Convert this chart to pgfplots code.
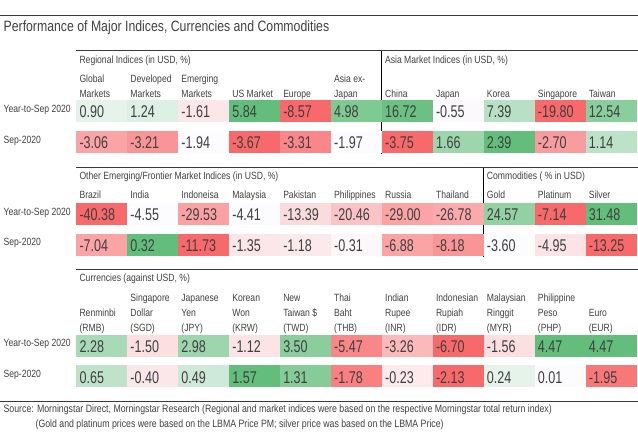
\documentclass[border=0pt]{standalone}
\usepackage{fontspec}
\setmainfont{Liberation Sans}[FakeStretch=0.82]
\newfontfamily\numfont{Liberation Sans}[FakeStretch=0.74]
\usepackage{pgfplots}
\pgfplotsset{compat=1.18}
\usepackage{pgfplotstable}
\definecolor{txt}{HTML}{404040}
\definecolor{rulec}{HTML}{3A3A3A}
\pgfdeclareplotmark{cell}{\pgfpathrectangle{\pgfpoint{-25.6bp}{-11bp}}{\pgfpoint{51.2bp}{22bp}}\pgfusepathqfill}
\tikzset{hdr/.style={anchor=base west, inner sep=0pt, text=txt, align=left, font=\fontsize{10.5bp}{15bp}\selectfont}}

\pgfplotstableread{
x y t v
101.5 111 0.15 0.90
152.5 111 0.2 1.24
203.5 111 -0.15 -1.61
254.5 111 1.0 5.84
305.5 111 -1.0 -8.57
356.5 111 0.82 4.98
407.5 111 0.95 16.72
458.5 111 -0.02 -0.55
509.5 111 0.45 7.39
560.5 111 -1.0 -19.80
611.5 111 0.75 12.54
101.5 142 -0.6 -3.06
152.5 142 -0.7 -3.21
203.5 142 0 -1.94
254.5 142 -1 -3.67
305.5 142 -0.8 -3.31
356.5 142 0 -1.97
407.5 142 -1 -3.75
458.5 142 0.62 1.66
509.5 142 1 2.39
560.5 142 -0.65 -2.70
611.5 142 0.42 1.14
101.5 214 -1 -40.38
152.5 214 0 -4.55
203.5 214 -0.62 -29.53
254.5 214 0 -4.41
305.5 214 -0.22 -13.39
356.5 214 -0.38 -20.46
407.5 214 -0.6 -29.00
458.5 214 -0.56 -26.78
509.5 214 0.7 24.57
560.5 214 -1 -7.14
611.5 214 1 31.48
101.5 245 -0.6 -7.04
152.5 245 1 0.32
203.5 245 -1 -11.73
254.5 245 -0.15 -1.35
305.5 245 -0.13 -1.18
356.5 245 -0.03 -0.31
407.5 245 -0.6 -6.88
458.5 245 -0.7 -8.18
509.5 245 0 -3.60
560.5 245 -0.17 -4.95
611.5 245 -1 -13.25
101.5 346 0.55 2.28
152.5 346 -0.2 -1.50
203.5 346 0.62 2.98
254.5 346 -0.17 -1.12
305.5 346 0.75 3.50
356.5 346 -0.8 -5.47
407.5 346 -0.45 -3.26
458.5 346 -1 -6.70
509.5 346 -0.2 -1.56
560.5 346 1 4.47
611.5 346 1 4.47
101.5 377 0.4 0.65
152.5 377 -0.15 -0.40
203.5 377 0.3 0.49
254.5 377 1 1.57
305.5 377 0.78 1.31
356.5 377 -0.85 -1.78
407.5 377 -0.12 -0.23
458.5 377 -1 -2.13
509.5 377 0.15 0.24
560.5 377 0.0 0.01
611.5 377 -0.9 -1.95
}\cells

\begin{document}
\begin{tikzpicture}
\begin{axis}[scale only axis, width=638bp, height=448bp,
  xmin=0, xmax=638, ymin=0, ymax=448, y dir=reverse,
  hide axis, clip=false,
  colormap={rwg}{rgb255(0cm)=(248,105,107); rgb255(1cm)=(252,252,255); rgb255(2cm)=(99,190,123)},
  point meta min=-1, point meta max=1,
]
\path (axis cs:0,0) rectangle (axis cs:638,448);

% coloured cells
\addplot[scatter, only marks, mark=cell, point meta=explicit,
  scatter/use mapped color={draw=none, fill=mapped color}]
  table[x=x, y=y, meta=t] {\cells};

% values
\addplot[only marks, mark=none, point meta=explicit symbolic,
  nodes near coords,
  every node near coord/.append style={anchor=base west, xshift=-22.5bp, yshift=-7bp,
     inner sep=0pt, text=txt, font=\numfont\fontsize{17bp}{18bp}\selectfont}]
  table[x=x, y=y, meta=v] {\cells};

% rules
\draw[rulec, line width=0.9bp] (axis cs:0,15) -- (axis cs:638,15);
\draw[rulec, line width=0.9bp] (axis cs:76,51) -- (axis cs:638,51);
\draw[rulec, line width=0.9bp] (axis cs:76,168) -- (axis cs:638,168);
\draw[rulec, line width=0.9bp] (axis cs:76,270) -- (axis cs:638,270);
\draw[rulec, line width=0.9bp] (axis cs:0,402) -- (axis cs:638,402);
\draw[black, line width=0.9bp] (axis cs:382,51) -- (axis cs:382,154);
\draw[black, line width=0.9bp] (axis cs:484,168) -- (axis cs:484,257);

% title
\node[anchor=base west, inner sep=0pt, text=txt, font=\fontsize{15bp}{18bp}\selectfont] at (axis cs:3,31.7) {Performance of Major Indices, Currencies and Commodities};

% block titles
\node[hdr] at (axis cs:79,63.3) {Regional Indices (in USD, \%)};
\node[hdr] at (axis cs:385,63.3) {Asia Market Indices (in USD, \%)};
\node[hdr] at (axis cs:79,180) {Other Emerging/Frontier Market Indices (in USD, \%)};
\node[hdr] at (axis cs:487,180) {Commodities ( \% in USD)};
\node[hdr] at (axis cs:79,282) {Currencies (against USD, \%)};

% block 1 headers (anchor = baseline of last line)
\node[hdr] at (axis cs:79,97.7) {Global\\Markets};
\node[hdr] at (axis cs:130,97.7) {Developed\\Markets};
\node[hdr] at (axis cs:181,97.7) {Emerging\\Markets};
\node[hdr] at (axis cs:232,97.7) {US Market};
\node[hdr] at (axis cs:283,97.7) {Europe};
\node[hdr] at (axis cs:334,97.7) {Asia ex-\\Japan};
\node[hdr] at (axis cs:385,97.7) {China};
\node[hdr] at (axis cs:436,97.7) {Japan};
\node[hdr] at (axis cs:487,97.7) {Korea};
\node[hdr] at (axis cs:538,97.7) {Singapore};
\node[hdr] at (axis cs:589,97.7) {Taiwan};

% block 2 headers
\node[hdr] at (axis cs:79,199) {Brazil};
\node[hdr] at (axis cs:130,199) {India};
\node[hdr] at (axis cs:181,199) {Indoneisa};
\node[hdr] at (axis cs:232,199) {Malaysia};
\node[hdr] at (axis cs:283,199) {Pakistan};
\node[hdr] at (axis cs:334,199) {Philippines};
\node[hdr] at (axis cs:385,199) {Russia};
\node[hdr] at (axis cs:436,199) {Thailand};
\node[hdr] at (axis cs:487,199) {Gold};
\node[hdr] at (axis cs:538,199) {Platinum};
\node[hdr] at (axis cs:589,199) {Silver};

% block 3 headers
\node[hdr] at (axis cs:79,331.5) {Renminbi\\(RMB)};
\node[hdr] at (axis cs:130,331.5) {Singapore\\Dollar\\(SGD)};
\node[hdr] at (axis cs:181,331.5) {Japanese\\Yen\\(JPY)};
\node[hdr] at (axis cs:232,331.5) {Korean\\Won\\(KRW)};
\node[hdr] at (axis cs:283,331.5) {New\\Taiwan \$\\(TWD)};
\node[hdr] at (axis cs:334,331.5) {Thai\\Baht\\(THB)};
\node[hdr] at (axis cs:385,331.5) {Indian\\Rupee\\(INR)};
\node[hdr] at (axis cs:436,331.5) {Indonesian\\Rupiah\\(IDR)};
\node[hdr] at (axis cs:487,331.5) {Malaysian\\Ringgit\\(MYR)};
\node[hdr] at (axis cs:538,331.5) {Philippine\\Peso\\(PHP)};
\node[hdr] at (axis cs:589,331.5) {Euro\\(EUR)};

% row labels
\node[hdr] at (axis cs:3,113) {Year-to-Sep 2020};
\node[hdr] at (axis cs:3,144) {Sep-2020};
\node[hdr] at (axis cs:3,215.5) {Year-to-Sep 2020};
\node[hdr] at (axis cs:3,246) {Sep-2020};
\node[hdr] at (axis cs:3,347) {Year-to-Sep 2020};
\node[hdr] at (axis cs:3,378) {Sep-2020};

% source
\node[anchor=base west, inner sep=0pt, text=txt, font=\fontsize{10.7bp}{12bp}\selectfont] at (axis cs:3,413) {Source: Morningstar Direct, Morningstar Research (Regional and market indices were based on the respective Morningstar total return index)};
\node[anchor=base west, inner sep=0pt, text=txt, font=\fontsize{10.7bp}{12bp}\selectfont] at (axis cs:35,428.5) {(Gold and platinum prices were based on the LBMA Price PM; silver price was based on the LBMA Price)};
\end{axis}
\end{tikzpicture}
\end{document}
